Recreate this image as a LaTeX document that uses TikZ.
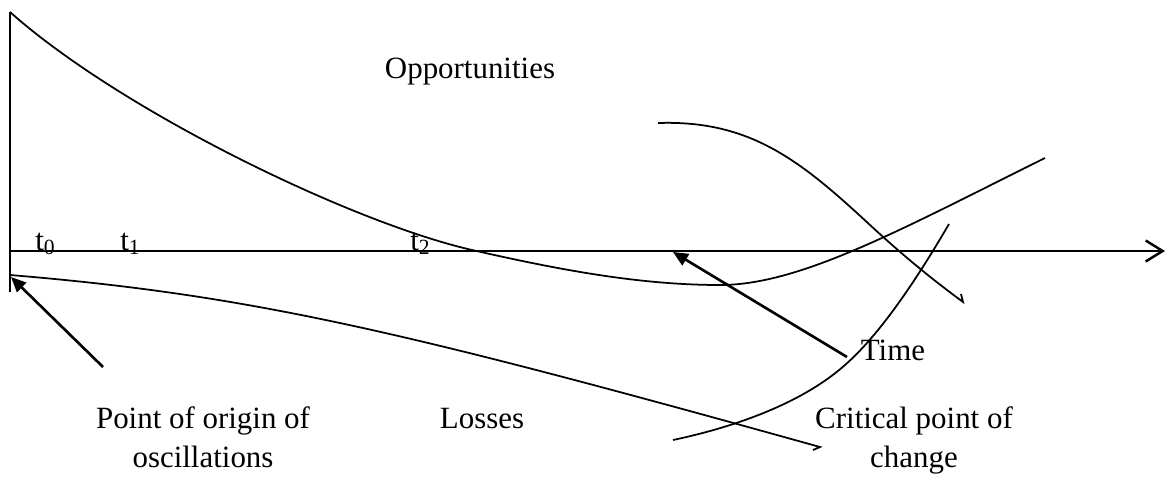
\documentclass[tikz,border=0pt]{standalone}
\usepackage{fontspec}
\setmainfont{Liberation Serif}
\usetikzlibrary{arrows.meta,positioning}
\tikzset{
  lbl/.style={anchor=base, align=center, inner sep=0pt, font=\fontsize{17.6}{22}\selectfont},
  tlbl/.style={anchor=base west, inner sep=0pt, font=\fontsize{17.6}{22}\selectfont},
  crv/.style={line width=1pt},
  axs/.style={line width=1.4pt},
  arr/.style={-{Triangle[length=0.3cm,width=0.26cm]}, line width=1.5pt},
}

\begin{document}
\begin{tikzpicture}[x=0.02cm, y=-0.02cm]
\useasboundingbox (0,0) rectangle (1167,477);

% axes
\coordinate (top) at (10,12);
\coordinate (bot) at (10,292);
\coordinate (o) at (10,251);
\coordinate (end) at (1165,251);
\draw[axs] (top) -- (bot);
\draw[axs, -{Straight Barb[length=0.34cm,width=0.42cm,line width=1.4pt]}] (o) -- (end);

% time marks
\node[tlbl] (t0) at (35,250) {t\textsubscript{0}};
\node[tlbl] (t1) at (120,250) {t\textsubscript{1}};
\node[tlbl] (t2) at (410,250) {t\textsubscript{2}};

% curves
\draw[crv] (10,12) .. controls (120,110) and (350,222) .. (472,250)
  .. controls (560,270) and (640,285) .. (720,285)
  .. controls (800,285) and (900,230) .. (1045,158);
\draw[crv] (658,123) .. controls (750,120) and (800,160) .. (870,225)
  .. controls (910,262) and (940,285) .. (963,302) -- (961,294);
\draw[crv] (673,440) .. controls (730,428) and (800,405) .. (845,365)
  .. controls (885,330) and (925,265) .. (949,224);
\draw[crv] (10,275) .. controls (250,295) and (400,330) .. (820,447) -- (813,450);

% labels
\node[lbl] (opp) at (470,78) {Opportunities};
\node[lbl] (loss) at (482,428) {Losses};
\node[lbl] (time) at (893,360) {Time};
\node[lbl] (orig) at (203,467) {Point of origin of\\oscillations};
\node[lbl] (crit) at (914,467) {Critical point of\\change};

% pointers
\coordinate (p0) at (103,367);
\coordinate (q0) at (11,277);
\coordinate (p1) at (847,357);
\coordinate (q1) at (673,252);
\draw[arr] (p0) -- (q0);
\draw[arr] (p1) -- (q1);

\end{tikzpicture}
\end{document}
